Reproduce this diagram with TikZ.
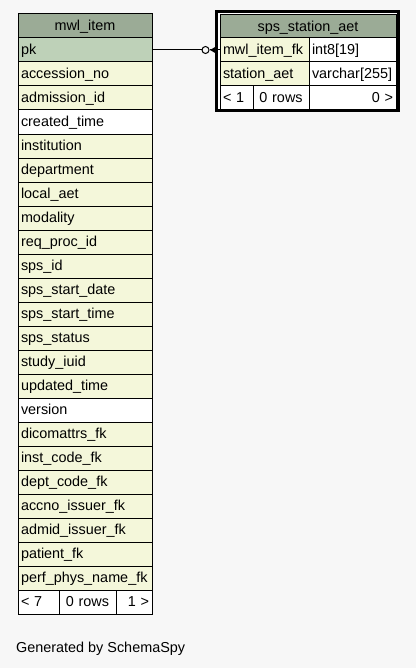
\documentclass[tikz,border=0pt]{standalone}
\usepackage{fontspec}
\setmainfont{Liberation Sans}
\definecolor{bg}{HTML}{F7F7F7}
\definecolor{headfill}{HTML}{9BAB96}
\definecolor{pkfill}{HTML}{BED1B8}
\definecolor{colfill}{HTML}{F4F7DA}
\begin{document}
\begin{tikzpicture}[x=1bp,y=-1bp,
  cell/.style={draw=black, line width=1bp, anchor=north west,
    minimum height=24bp, inner xsep=3bp, inner ysep=0pt,
    text height=11.5bp, text depth=2bp, font=\fontsize{14.4bp}{16bp}\selectfont},
  headcell/.style={cell, fill=headfill, align=center},
  footcell/.style={cell, fill=white},
  link/.style={line width=1bp}]
  \fill[bg] (0,0) rectangle (416,668);
  \useasboundingbox (0,0) rectangle (416,668);

  % table mwl_item
  \node[headcell, minimum width=134bp] (mwl-0) at (17.5,13.5) {mwl\_item};
  \foreach \txt/\fc [count=\i] in {
      pk/pkfill, accession\_no/colfill, admission\_id/colfill,
      created\_time/white, institution/colfill, department/colfill,
      local\_aet/colfill, modality/colfill, req\_proc\_id/colfill,
      sps\_id/colfill, sps\_start\_date/colfill, sps\_start\_time/colfill,
      sps\_status/colfill, study\_iuid/colfill, updated\_time/colfill,
      version/white, dicomattrs\_fk/colfill, inst\_code\_fk/colfill,
      dept\_code\_fk/colfill, accno\_issuer\_fk/colfill,
      admid\_issuer\_fk/colfill, patient\_fk/colfill,
      perf\_phys\_name\_fk/colfill} {
    \node[cell, text width=128bp, align=left, fill=\fc] (mwl-\i)
      at (17.5,{13.5+24*\i}) {\txt};
  }
  \node[footcell, text width=35bp, align=left] (mwl-fa) at (17.5,589.5) {< 7};
  \node[footcell, text width=51bp, align=center] (mwl-fb) at (58.5,589.5) {0 rows};
  \node[footcell, text width=30bp, align=right] (mwl-fc) at (115.5,589.5) {1 >};

  % table sps_station_aet (focused, heavy frame)
  \draw[line width=3bp, fill=white] (216.5,11.5) rectangle (398.5,110.5);
  \node[headcell, minimum width=176bp, minimum height=23bp] (sps-0)
    at (219.5,14.5) {sps\_station\_aet};
  \node[cell, text width=83bp, align=left, fill=colfill] (sps-1a) at (219.5,37.5) {mwl\_item\_fk};
  \node[cell, text width=81bp, align=left, fill=white] (sps-1b) at (308.5,37.5) {int8[19]};
  \node[cell, text width=83bp, align=left, fill=colfill] (sps-2a) at (219.5,61.5) {station\_aet};
  \node[cell, text width=81bp, align=left, fill=white] (sps-2b) at (308.5,61.5) {varchar[255]};
  \node[footcell, text width=27bp, align=left, minimum height=23bp] (sps-fa) at (219.5,85.5) {< 1};
  \node[footcell, text width=50bp, align=center, minimum height=23bp] (sps-fb) at (252.5,85.5) {0 rows};
  \node[footcell, text width=81bp, align=right, minimum height=23bp] (sps-fc) at (308.5,85.5) {0 >};

  % relationship: zero-or-many sps_station_aet rows per mwl_item
  \path (mwl-1.east) ++(53,0)
    node[circle, draw=black, line width=1bp, fill=bg, minimum size=7bp, inner sep=0pt] (opt) {};
  \path (opt.center) ++(4.5,0) coordinate (crow);
  \draw[link] (mwl-1.east) -- (opt.west);
  \draw[link] (opt.east) -- (opt.east -| sps-1a.west);
  \fill[black] (crow) -- ++(6,-3.5) -- ++(0,7) -- cycle;

  \node[anchor=base west, inner sep=0pt, font=\fontsize{14.4bp}{16bp}\selectfont]
    (credit) at (16,652) {Generated by SchemaSpy};
\end{tikzpicture}
\end{document}
